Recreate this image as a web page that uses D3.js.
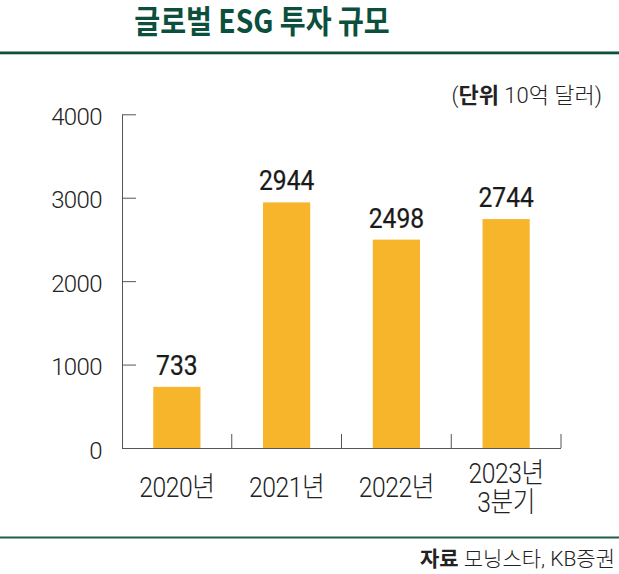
<!DOCTYPE html>
<html><head><meta charset="utf-8">
<script src="https://cdn.jsdelivr.net/npm/d3@7"></script>
<style>
html,body{margin:0;padding:0;background:#fff;}
svg{display:block;}
</style></head>
<body>
<script>
const categories = ["2020년", "2021년", "2022년", "2023년\n3분기"];
const values = [733, 2944, 2498, 2744];
const yTicks = [0, 1000, 2000, 3000, 4000];
const titleText = "글로벌 ESG 투자 규모";
const unitBold = "단위", unitRest = " 10억 달러";
const srcBold = "자료", srcRest = " 모닝스타, KB증권";

const W = 619, H = 574;
const green = "#0b4f3c";
const barColor = "#f7b52c";
const axisColor = "#555";
const sans = "Roboto, 'Noto Sans CJK KR', sans-serif";

const svg = d3.select("body").append("svg").attr("width", W).attr("height", H);

// title
svg.append("text")
  .attr("transform", "translate(262,33) scale(0.88,1)")
  .attr("text-anchor", "middle")
  .attr("font-family", "'Noto Sans CJK KR', sans-serif").attr("font-weight", 700)
  .attr("font-size", 32).attr("fill", green).text(titleText);

svg.append("rect").attr("x", 0).attr("y", 51.5).attr("width", W).attr("height", 2.8).attr("fill", green);
svg.append("rect").attr("x", 0).attr("y", 536.5).attr("width", W).attr("height", 2).attr("fill", "#1f5f4b");

const x0 = 122, x1 = 561, yTop = 114.3, yBot = 448;
const y = d3.scaleLinear().domain([0, 4000]).range([yBot, yTop]);
const xb = d3.scaleBand().domain(categories).range([x0, x1]).paddingInner(0.57).paddingOuter(0.285);
const xStep = d3.scaleBand().domain(categories).range([x0, x1]).padding(0);

// unit label
const unit = svg.append("text").attr("x", 602).attr("y", 103).attr("text-anchor", "end")
  .attr("font-family", sans).attr("font-size", 22).attr("fill", "#222");
unit.append("tspan").attr("font-weight", 300).text("(");
unit.append("tspan").attr("font-weight", 700).text(unitBold);
unit.append("tspan").attr("font-weight", 300).text(unitRest + ")");

// y axis
const gy = svg.append("g").attr("transform", `translate(${x0},0)`)
  .call(d3.axisRight(y).tickValues(yTicks).tickSize(14).tickSizeOuter(0).tickFormat(""));
gy.select(".domain").attr("stroke", axisColor);
gy.selectAll(".tick line").attr("stroke", axisColor);

svg.append("g").selectAll("text").data(yTicks).join("text")
  .attr("x", 102).attr("y", d => y(d) + 10.5).attr("text-anchor", "end")
  .attr("font-family", sans).attr("font-weight", 300).attr("font-size", 24)
  .attr("letter-spacing", -0.6).attr("fill", "#222").text(d => d);

// bars
svg.append("g").selectAll("rect").data(values).join("rect")
  .attr("x", (d, i) => xb(categories[i])).attr("width", xb.bandwidth())
  .attr("y", d => y(d)).attr("height", d => yBot - y(d)).attr("fill", barColor);

// x axis
const bounds = categories.map(c => xStep(c) + xStep.step());
svg.append("line").attr("x1", x0).attr("x2", x1).attr("y1", yBot + 0.5).attr("y2", yBot + 0.5)
  .attr("stroke", axisColor);
svg.append("g").selectAll("line").data(bounds).join("line")
  .attr("x1", d => d).attr("x2", d => d).attr("y1", yBot - 14).attr("y2", yBot)
  .attr("stroke", axisColor);

// value labels
svg.append("g").selectAll("text").data(values).join("text")
  .attr("transform", (d, i) => {
    const cx = xb(categories[i]) + xb.bandwidth() / 2;
    return `translate(${cx},${y(d) - 12}) scale(0.88,1)`;
  })
  .attr("text-anchor", "middle").attr("font-family", sans).attr("font-weight", 400)
  .attr("font-size", 28).attr("fill", "#1a1a1a")
  .attr("stroke", "#1a1a1a").attr("stroke-width", 0.25).text(d => d);

// category labels
categories.forEach((c, i) => {
  const lines = c.split("\n");
  const cx = xb(c) + xb.bandwidth() / 2;
  const base = lines.length === 1 ? 497 : 483;
  lines.forEach((ln, j) => {
    svg.append("text")
      .attr("transform", `translate(${cx},${base + j * 28.7}) scale(0.88,1)`)
      .attr("text-anchor", "middle").attr("font-family", sans).attr("font-weight", 300)
      .attr("font-size", 28).attr("letter-spacing", -0.5).attr("fill", "#222").text(ln);
  });
});

// source
const src = svg.append("text").attr("x", 615).attr("y", 566).attr("text-anchor", "end")
  .attr("font-family", sans).attr("font-size", 21).attr("fill", "#222");
src.append("tspan").attr("font-weight", 700).text(srcBold);
src.append("tspan").attr("font-weight", 300).text(srcRest);
</script>
</body></html>
